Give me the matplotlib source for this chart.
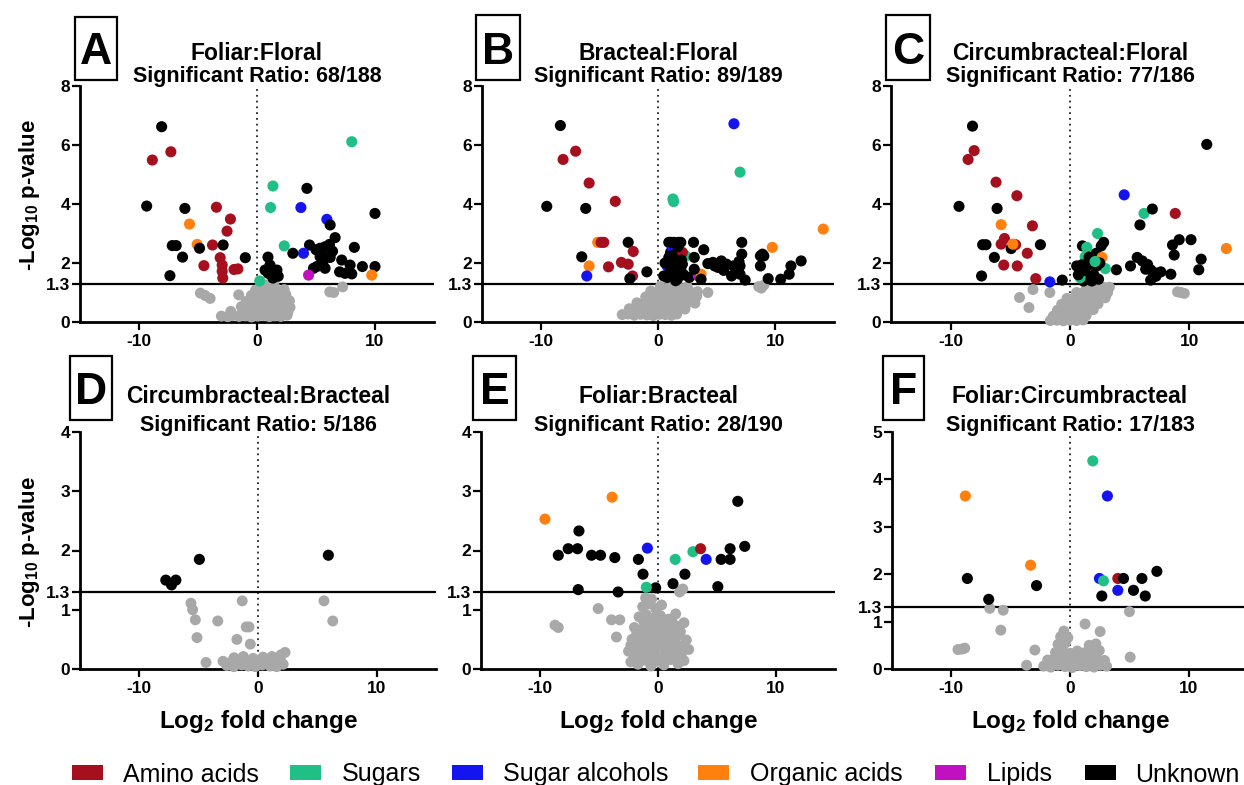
import matplotlib
matplotlib.use("Agg")
import matplotlib.pyplot as plt
from matplotlib.patches import Rectangle
from matplotlib.transforms import blended_transform_factory

plt.rcParams['font.family'] = ['Liberation Sans', 'DejaVu Sans']
plt.rcParams['mathtext.fontset'] = 'custom'
plt.rcParams['mathtext.rm'] = 'Liberation Sans:bold'
plt.rcParams['mathtext.it'] = 'Liberation Sans:bold'
plt.rcParams['mathtext.bf'] = 'Liberation Sans:bold'
plt.rcParams['axes.unicode_minus'] = False

# ---------------- data ----------------
categories = ["Amino acids", "Sugars", "Sugar alcohols", "Organic acids", "Lipids", "Unknown"]
cat_codes = ["a", "s", "h", "o", "l", "u"]
cat_colors = ["#A50F1E", "#1FBF86", "#1414F0", "#FF800E", "#C010C0", "#000000"]
grey_color = "#A8A8A8"

panel_letters = ["A", "B", "C", "D", "E", "F"]
panel_titles = ["Foliar:Floral", "Bracteal:Floral", "Circumbracteal:Floral",
                "Circumbracteal:Bracteal", "Foliar:Bracteal", "Foliar:Circumbracteal"]
panel_ratios = ["68/188", "89/189", "77/186", "5/186", "28/190", "17/183"]
panel_ymax = [8, 8, 8, 4, 4, 5]
panel_yticks = [[0, 1.3, 2, 4, 6, 8], [0, 1.3, 2, 4, 6, 8], [0, 1.3, 2, 4, 6, 8],
                [0, 1, 1.3, 2, 3, 4], [0, 1, 1.3, 2, 3, 4], [0, 1, 1.3, 2, 3, 4, 5]]
panel_yticklabels = [["0", "1.3", "2", "4", "6", "8"], ["0", "1.3", "2", "4", "6", "8"],
                     ["0", "1.3", "2", "4", "6", "8"], ["0", "1", "1.3", "2", "3", "4"],
                     ["0", "1", "1.3", "2", "3", "4"], ["0", "1", "1.3", "2", "3", "4", "5"]]
xticks = [-10, 0, 10]
xticklabels = ["-10", "0", "10"]
threshold = 1.3

# Panel A
A_x = [-8.08, -8.87, -7.30, -9.35, -6.11, -5.72, -3.44, -2.25, -2.54, -7.18, -6.85, -5.07, -4.87, -3.77,
       -2.87, -6.31, -4.50, -3.12, -2.95, -2.95, -2.90, -1.95, -1.62, -0.99, -7.38,
       1.35, 1.15, 8.03, 2.31, 0.23, 4.23, 3.72, 5.92, 6.20, 10.0, 6.62, 4.45, 3.94, 3.04,
       5.35, 5.77, 6.14, 5.49, 6.20, 5.07, 4.79, 5.77, 5.35, 8.25, 7.18, 7.89, 7.46, 8.03,
       8.93, 10.0, 9.72, 4.37, 0.93, 1.10, 0.68, 1.69, 1.35, 5.0, 6.4, 1.80, 7.0, 5.6, 0.95]
A_y = [6.62, 5.49, 5.77, 3.93, 3.85, 3.32, 3.89, 3.49, 3.08, 2.59, 2.59, 2.63, 2.50, 2.61,
       2.61, 2.20, 1.91, 2.18, 1.93, 1.72, 1.49, 1.78, 1.80, 2.18, 1.57,
       4.61, 3.88, 6.11, 2.58, 1.39, 4.53, 3.88, 3.48, 3.29, 3.68, 2.86, 2.61, 2.33, 2.33,
       2.50, 2.55, 2.63, 2.31, 2.19, 1.88, 1.82, 1.82, 2.21, 2.53, 2.10, 1.93, 1.65, 1.63,
       1.88, 1.88, 1.59, 1.59, 2.20, 1.93, 1.76, 1.76, 1.49, 2.45, 2.40, 1.55, 1.70, 2.05, 1.65]
A_c = "uaauuoaaauuouauuaaaaaaauu" + "sssssuhhuuuuhu" + "uuuuuuuuu" + "uuuuuuuol" + "uuuuu" + "uuuuuu"
A_gx = [-4.80, -4.40, -3.97, -1.55, 6.16, 6.50, 7.26,
        -3.02, -2.48, -2.05, -1.52, -0.98, -0.47, 0.04, 0.52, 1.05, 1.48, 2.02, 2.55,
        -2.22, -1.25, -0.62, 0.12, 0.68, 1.30, 1.88, 2.62,
        -1.33, -0.78, -0.21, 0.41, 0.97, 1.62, 2.18, 2.80,
        -0.92, -0.31, 0.29, 0.88, 1.52, 2.12, 2.75,
        -0.48, 0.11, 0.72, 1.31, 1.93, 2.45,
        -0.12, 0.52, 1.08, 1.63, 2.30,
        0.31, 0.82, 1.45]
A_gy = [0.98, 0.90, 0.80, 0.92, 1.02, 1.00, 1.19,
        0.20, 0.18, 0.22, 0.19, 0.21, 0.17, 0.20, 0.22, 0.18, 0.21, 0.19, 0.23,
        0.36, 0.34, 0.37, 0.33, 0.36, 0.35, 0.38, 0.34,
        0.52, 0.49, 0.53, 0.50, 0.51, 0.48, 0.52, 0.50,
        0.70, 0.72, 0.68, 0.71, 0.69, 0.73, 0.72,
        0.90, 0.88, 0.92, 0.89, 0.91, 0.93,
        1.08, 1.12, 1.10, 1.07, 1.10,
        1.24, 1.26, 1.24]

# Panel B
B_x = [-8.32, -8.09, -7.02, -5.87, -3.64, -9.48, -6.16, 1.27, 1.33, 6.47, 6.99, 14.08, -5.14, -4.85,
       -4.62, -2.54, -2.11, -6.50, -5.87, -6.07, -4.22, -3.12, -2.54, -2.17, -2.40, -0.95,
       0.92, 1.36, 1.94, 1.07, 1.65, 1.50, 2.08, 0.78, 1.07, 1.36, 0.78, 0.49, 1.65, 2.37,
       1.21, 1.79, 2.08, 1.36, 1.94, 0.92,
       3.03, 3.90, 3.09, 2.66, 3.44, 3.67, 4.25, 4.83, 5.40, 5.84, 6.42, 6.99, 7.14, 7.14,
       6.27, 6.99, 7.43, 8.73, 9.02, 8.73, 9.39, 10.46, 11.18, 11.33, 12.2, 9.74, 4.68, 5.12,
       6.71, 3.67, 3.09,
       0.6, 1.2, 1.7, 2.2, 0.95, 1.5, 2.0, 1.1, 1.75, 5.6, 6.9, 8.9]
B_y = [6.66, 5.51, 5.79, 4.71, 4.09, 3.92, 3.85, 4.17, 4.08, 6.72, 5.08, 3.15, 2.70, 2.70,
       2.70, 2.70, 2.39, 2.21, 1.90, 1.56, 1.87, 2.02, 1.96, 1.56, 1.47, 1.70,
       2.70, 2.70, 2.70, 2.36, 2.36, 2.02, 1.96, 1.90, 1.73, 1.56, 1.51, 1.56, 1.45, 2.24,
       2.53, 2.19, 2.36, 1.84, 1.79, 2.19,
       2.70, 2.45, 2.19, 1.51, 1.56, 1.62, 1.98, 1.90, 2.07, 1.96, 1.90, 1.90, 2.30, 2.70,
       1.56, 1.62, 1.42, 2.24, 2.24, 1.90, 1.47, 1.45, 1.62, 1.90, 2.07, 2.53, 2.02, 1.85,
       1.79, 1.45, 1.79,
       2.0, 2.25, 2.55, 1.6, 1.95, 1.4, 2.1, 2.7, 2.7, 1.75, 2.05, 2.3]
B_c = ("uaaaauusshsooaauauohaaaau" + "u" + "uuuuuuuhuuuuus" + "huauuu" +
       "uuuulouuuuuuuu" + "uuuuuuuuuuuouu" + "uuu" + "uuuuuuuuuuuu")
B_gx = [4.25, 8.58, 9.02, 8.80,
        -3.05, -2.55, -2.02, -1.48, -0.95, -0.42, 0.10, 0.62, 1.15, 1.60,
        -2.45, -1.85, -1.22, -0.60, 0.02, 0.58, 1.20, 1.78, 2.30,
        -1.80, -1.15, -0.52, 0.10, 0.72, 1.35, 1.95, 2.60, 3.15,
        -1.05, -0.40, 0.22, 0.85, 1.48, 2.10, 2.75, 3.30,
        -0.62, 0.05, 0.70, 1.35, 2.00, 2.65, 3.35,
        0.20, 0.95, 1.70, 2.50]
B_gy = [1.00, 1.20, 1.25, 1.15,
        0.25, 0.27, 0.23, 0.26, 0.24, 0.22, 0.26, 0.25, 0.23, 0.27,
        0.45, 0.43, 0.47, 0.44, 0.46, 0.45, 0.43, 0.47, 0.44,
        0.65, 0.63, 0.67, 0.64, 0.66, 0.65, 0.63, 0.67, 0.64,
        0.85, 0.83, 0.87, 0.84, 0.86, 0.85, 0.83, 0.87,
        1.05, 1.03, 1.07, 1.04, 1.06, 1.05, 1.03,
        1.20, 1.18, 1.22, 1.19]

# Panel C
C_x = [-8.17, -8.54, -8.03, -9.30, -6.20, -6.11, -4.45, -5.77, -3.15, -7.32, -7.04, -5.77, -5.49,
       -4.93, -4.56, -4.79, -3.58, -2.48, -6.34, -5.55, -4.42, -7.41, -2.87, -1.69, -0.65,
       11.46, 4.54, 6.20, 6.90, 8.82, 5.86, 2.31, 2.82, 2.62, 1.04, 1.27, 1.41, 2.20, 2.68, 2.96,
       0.56, 0.99, 1.41, 1.83, 2.25, 0.85, 1.41, 1.13, 1.83, 2.39, 0.85,
       3.89, 5.07, 5.63, 6.06, 6.34, 6.76, 7.04, 7.61, 6.76,
       8.59, 9.15, 8.73, 8.45, 10.14, 10.99, 10.79, 13.10,
       1.6, 0.7, 2.0, 2.5, 1.2, 2.1, 1.9, 6.5, 7.2]
C_y = [6.64, 5.51, 5.81, 3.92, 4.74, 3.85, 4.28, 3.30, 3.26, 2.62, 2.62, 2.64, 2.83,
       2.49, 2.62, 2.64, 2.33, 2.62, 2.19, 1.93, 1.90, 1.56, 1.47, 1.36, 1.42,
       6.02, 4.31, 3.68, 3.83, 3.68, 3.29, 3.00, 2.70, 2.58, 2.58, 2.21, 2.53, 2.33, 2.19, 1.81,
       1.90, 1.94, 1.90, 1.96, 1.90, 1.68, 1.56, 1.39, 1.39, 1.45, 1.50,
       1.77, 1.90, 2.19, 2.07, 1.79, 1.77, 1.68, 1.70, 1.42,
       2.61, 2.79, 2.27, 1.62, 2.79, 2.13, 1.77, 2.49,
       2.20, 1.60, 1.60, 2.00, 1.75, 2.05, 1.45, 1.95, 1.55]
C_c = ("uaauauaoauuaauaoauuaauahu" + "uhsuausuuussuos" + "uuuuuuuuuus" +
       "uuuuuuuuu" + "uuuuuuuo" + "uuuuusuuu")
C_gx = [-4.23, -3.44, -3.10, -1.69, 9.01, 9.30, 9.58,
        -1.65, -1.10, -0.55, 0.00, 0.55, 1.10,
        -1.40, -0.85, -0.30, 0.25, 0.80, 1.35,
        -1.05, -0.45, 0.15, 0.75, 1.35, 1.95,
        -0.70, -0.10, 0.50, 1.10, 1.70, 2.35,
        -0.25, 0.40, 1.00, 1.65, 2.30, 2.95,
        0.55, 1.20, 1.85, 2.50, 3.15,
        1.40, 2.05, 2.70, 3.30]
C_gy = [0.83, 0.49, 1.10, 1.00, 1.02, 1.00, 0.97,
        0.05, 0.06, 0.04, 0.06, 0.05, 0.07,
        0.20, 0.22, 0.19, 0.21, 0.20, 0.22,
        0.40, 0.42, 0.39, 0.41, 0.40, 0.42,
        0.60, 0.62, 0.59, 0.61, 0.60, 0.62,
        0.80, 0.82, 0.79, 0.81, 0.80, 0.82,
        1.00, 1.02, 0.99, 1.01, 1.00,
        1.18, 1.17, 1.19, 1.18]

# Panel D
D_x = [-4.94, 5.93, -7.77, -6.92, -7.29]
D_y = [1.85, 1.92, 1.50, 1.50, 1.42]
D_c = "uuuuu"
D_gx = [-5.65, -5.51, -5.28, -3.39, -5.14, -4.38, -1.33, -0.99, -0.76, -1.78, -0.65, 5.56, 6.30,
        -2.63, -2.04, -1.38, -0.83, -0.22, 0.37, 1.02, 1.58, 2.12,
        -2.95, -2.31, -1.72, -1.08, -0.52, 0.11, 0.68, 1.33, 1.88,
        -2.02, -1.23, -0.41, 0.42, 1.18, 1.94, 2.28]
D_gy = [1.11, 1.00, 0.83, 0.81, 0.53, 0.11, 1.15, 0.71, 0.71, 0.50, 0.42, 1.15, 0.81,
        0.06, 0.04, 0.07, 0.05, 0.04, 0.07, 0.05, 0.04, 0.08,
        0.13, 0.11, 0.15, 0.12, 0.11, 0.14, 0.13, 0.11, 0.16,
        0.19, 0.21, 0.18, 0.20, 0.21, 0.24, 0.28]

# Panel E
E_x = [-9.58, -3.89, -6.70, -8.45, -7.61, -6.82, -5.63, -4.87, -3.66, -1.66, -1.27, -6.76, -3.38,
       -0.20, 1.27, 2.28, 5.07, 5.35, 6.11, 6.11, 7.35, 6.76, -0.90, 4.08, 1.46, 2.96, -0.99, 3.61]
E_y = [2.53, 2.90, 2.33, 1.92, 2.03, 2.03, 1.92, 1.92, 1.88, 1.85, 1.60, 1.34, 1.30,
       1.37, 1.44, 1.60, 1.39, 1.85, 1.85, 2.03, 2.07, 2.83, 2.04, 1.85, 1.85, 1.98, 1.38, 2.03]
E_c = "oouuuuuuuuuuuuuuuuuuuuhhsssa"
E_gx = [-5.07, -8.73, -8.45, -3.94, -3.24, -3.52, 1.83, 2.10,
        -2.30, -1.70, -1.10, -0.60, -0.10, 0.50, 1.10, 1.70, 2.20,
        -2.50, -1.90, -1.40, -0.80, -0.30, 0.30, 0.80, 1.40, 2.00, 2.60,
        -2.20, -1.60, -1.00, -0.50, 0.10, 0.70, 1.20, 1.80, 2.40,
        -2.00, -1.40, -0.80, -0.20, 0.40, 1.00, 1.60, 2.20,
        -1.60, -1.00, -0.40, 0.20, 0.90, 1.50,
        -1.30, -0.80, -0.20, 0.30,
        -1.05, -0.55,
        -2.00, -1.40, -0.80, -0.30, 0.30, 0.90, 1.50, 2.00,
        -2.30, -1.70, -1.10, -0.60, 0.00, 0.50, 1.10, 1.60, 2.20,
        -1.80, -1.20, -0.60, 0.00, 0.60, 1.20, 1.90,
        -1.20, -0.60, 0.10, 0.60, 1.20]
E_gy = [1.02, 0.74, 0.70, 0.83, 0.83, 0.54, 1.30, 1.35,
        0.12, 0.08, 0.15, 0.05, 0.13, 0.07, 0.16, 0.09, 0.14,
        0.30, 0.36, 0.26, 0.33, 0.24, 0.38, 0.28, 0.35, 0.27, 0.33,
        0.50, 0.55, 0.46, 0.58, 0.48, 0.53, 0.45, 0.57, 0.49,
        0.70, 0.66, 0.75, 0.68, 0.74, 0.66, 0.72, 0.78,
        0.88, 0.92, 0.86, 0.90, 0.84, 0.93,
        1.05, 1.10, 1.02, 1.08,
        1.20, 1.18,
        0.20, 0.18, 0.22, 0.17, 0.21, 0.19, 0.23, 0.18,
        0.40, 0.42, 0.38, 0.43, 0.39, 0.44, 0.37, 0.41, 0.40,
        0.60, 0.62, 0.58, 0.63, 0.60, 0.61, 0.63,
        0.80, 0.78, 0.80, 0.77, 0.80]

# Panel F
F_x = [1.92, 3.15, -8.82, -3.32, -8.65, -2.82, -6.85, 2.48, 2.82, 4.03, 4.51, 6.06, 7.32,
       4.03, 5.35, 6.34, 2.68]
F_y = [4.39, 3.65, 3.65, 2.19, 1.91, 1.76, 1.47, 1.91, 1.86, 1.91, 1.91, 1.91, 2.06,
       1.66, 1.66, 1.54, 1.54]
F_c = "shoouuuhsauuuhuuu"
F_gx = [-6.76, -5.63, -5.83, -9.44, -9.10, -8.87, -2.96, -3.66, 1.27, 2.54, 5.01, 5.07,
        -2.22, -1.63, -1.02, -0.41, 0.18, 0.83, 1.38, 2.02, 2.57, 3.08,
        -1.88, -1.31, -0.68, -0.12, 0.52, 1.08, 1.72, 2.28, 2.91,
        -1.22, -0.58, 0.03, 0.61, 1.19, 1.83, 2.47,
        -1.01, -0.38, 1.62, 2.18,
        -0.79, -0.18,
        -0.52]
F_gy = [1.28, 1.24, 0.82, 0.41, 0.42, 0.44, 0.40, 0.08, 0.95, 0.79, 1.21, 0.25,
        0.06, 0.04, 0.08, 0.05, 0.03, 0.07, 0.05, 0.04, 0.08, 0.06,
        0.19, 0.22, 0.17, 0.21, 0.23, 0.18, 0.20, 0.22, 0.18,
        0.35, 0.37, 0.33, 0.38, 0.34, 0.36, 0.39,
        0.52, 0.55, 0.50, 0.53,
        0.68, 0.66,
        0.80]

sig_x = [A_x, B_x, C_x, D_x, E_x, F_x]
sig_y = [A_y, B_y, C_y, D_y, E_y, F_y]
sig_c = [A_c, B_c, C_c, D_c, E_c, F_c]
ns_x = [A_gx, B_gx, C_gx, D_gx, E_gx, F_gx]
ns_y = [A_gy, B_gy, C_gy, D_gy, E_gy, F_gy]

# ---------------- layout (pixels) ----------------
W, H = 1244, 785
fig = plt.figure(figsize=(W / 100, H / 100), dpi=100)

# left, right, top, bottom in pixels
axes_px = [(80, 434, 86, 322), (482, 834, 86, 322), (891, 1249, 86, 322),
           (80, 436, 432, 669), (481, 835, 432, 669), (892, 1248, 432, 669)]
box_px = [(75, 17, 117, 80), (476, 15, 520, 80), (886, 15, 930, 80),
          (70, 356, 112, 420), (473, 356, 516, 420), (883, 356, 924, 420)]
title1_base = [60, 60, 60, 403, 403, 403]
title2_base = [82, 82, 82, 431, 431, 431]

color_map = dict(zip(cat_codes, cat_colors))

for i in range(6):
    l, r, t, b = axes_px[i]
    ax = fig.add_axes([l / W, 1 - b / H, (r - l) / W, (b - t) / H])
    ax.set_xlim(-15, 15)
    ax.set_ylim(0, panel_ymax[i])
    ax.set_facecolor("none")
    for sp in ["top", "right"]:
        ax.spines[sp].set_visible(False)
    for sp in ["left", "bottom"]:
        ax.spines[sp].set_linewidth(2.0)
    ax.set_xticks(xticks)
    ax.set_xticklabels(xticklabels, fontsize=12.5, fontweight="bold")
    ax.set_yticks(panel_yticks[i])
    ax.set_yticklabels(panel_yticklabels[i], fontsize=12.5, fontweight="bold")
    ax.tick_params(axis="x", direction="out", length=5.5, width=1.6, pad=3)
    ax.tick_params(axis="y", direction="out", length=5.5, width=1.6, pad=1.5)

    ax.axhline(threshold, color="black", lw=1.6, zorder=2)
    ax.axvline(0, color="#222222", lw=1.3, ls=(0, (1, 2.2)), zorder=1)

    ax.scatter(ns_x[i], ns_y[i], s=62, color=grey_color, edgecolors="none", zorder=3, clip_on=False)
    cols = [color_map[c] for c in sig_c[i]]
    ax.scatter(sig_x[i], sig_y[i], s=64, c=cols, edgecolors="none", zorder=4, clip_on=False)

    tr = blended_transform_factory(ax.transData, fig.transFigure)
    ax.text(0, 1 - title1_base[i] / H, panel_titles[i], transform=tr, ha="center", va="baseline",
            fontsize=16.5, fontweight="bold")
    ax.text(0, 1 - title2_base[i] / H, "Significant Ratio: " + panel_ratios[i], transform=tr,
            ha="center", va="baseline", fontsize=15.5, fontweight="bold")

    if i >= 3:
        ax.text(0, 1 - 728 / H, "Log$_2$ fold change", transform=tr, ha="center", va="baseline",
                fontsize=17.5, fontweight="bold")

    # panel letter box
    x0, y0, x1, y1 = box_px[i]
    fig.patches.append(Rectangle((x0 / W, 1 - y1 / H), (x1 - x0) / W, (y1 - y0) / H,
                                 transform=fig.transFigure, fill=False, lw=1.6, edgecolor="black"))
    fig.text((x0 + x1) / 2 / W, 1 - ((y0 + y1) / 2 + 16) / H, panel_letters[i], ha="center",
             va="baseline", fontsize=32, fontweight="bold")

# y labels
fig.text(30 / W, 1 - 195 / H, "-Log$_{10}$ p-value", rotation=90, ha="center", va="center",
         fontsize=16, fontweight="bold")
fig.text(30 / W, 1 - 552 / H, "-Log$_{10}$ p-value", rotation=90, ha="center", va="center",
         fontsize=16, fontweight="bold")

# legend (manual)
leg_patch_x = [72, 290, 452, 698, 935, 1085]
leg_text_x = [123, 342, 503, 750, 987, 1135]
leg_y = 772
for k in range(len(categories)):
    fig.patches.append(Rectangle((leg_patch_x[k] / W, 1 - (leg_y + 7.5) / H), 31 / W, 15 / H,
                                 transform=fig.transFigure, color=cat_colors[k], lw=0))
    fig.text(leg_text_x[k] / W, 1 - leg_y / H, categories[k], ha="left", va="center_baseline",
             fontsize=18)

fig.savefig("out.png", dpi=100)
